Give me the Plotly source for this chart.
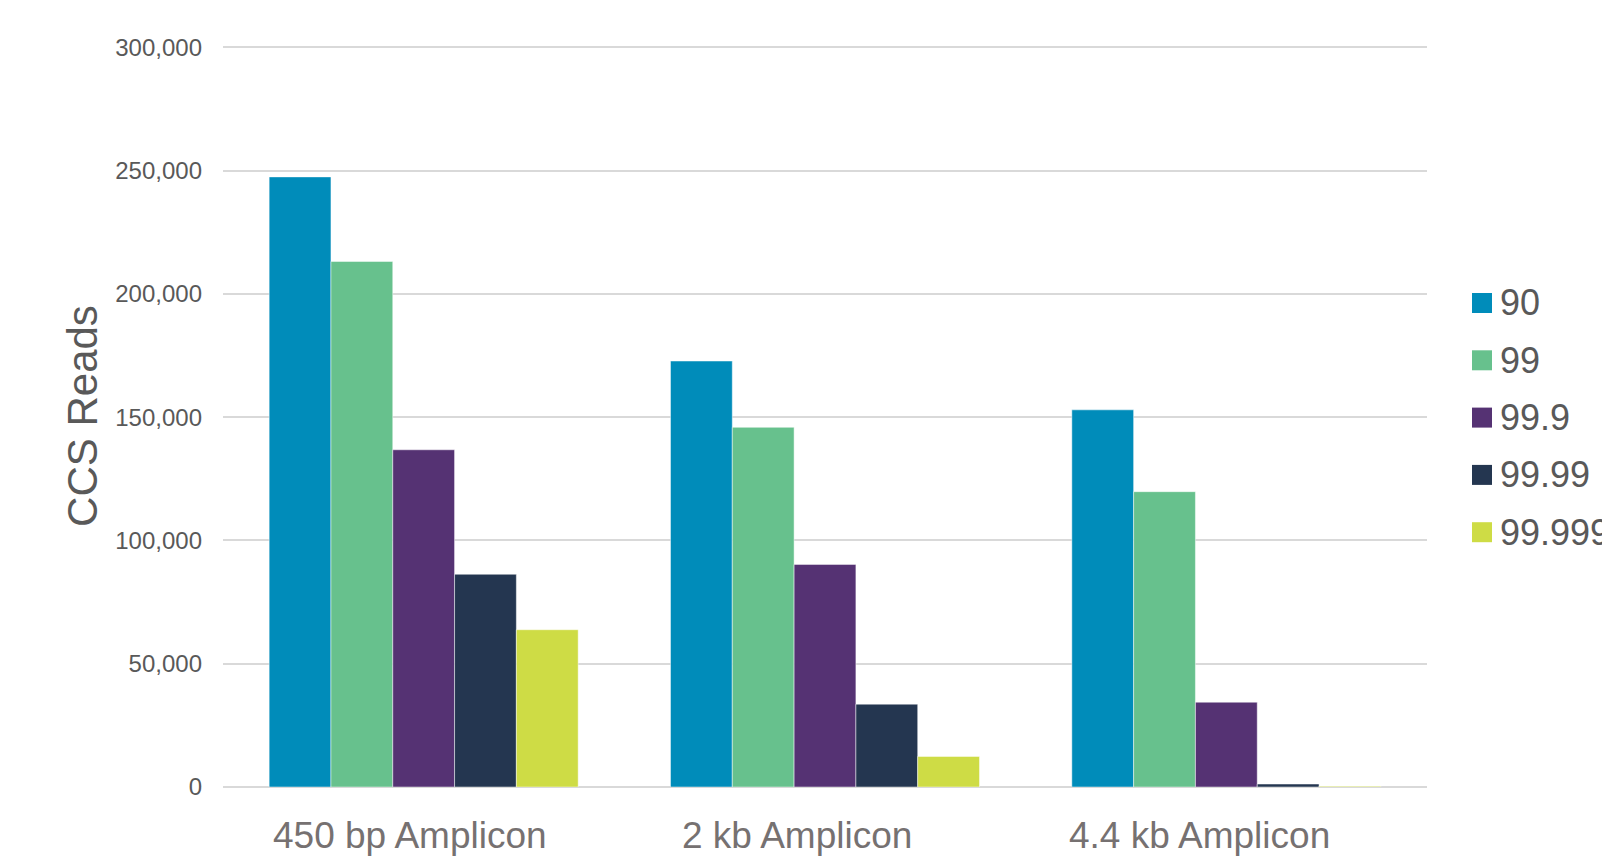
import plotly.graph_objects as go

categories = ["450 bp Amplicon", "2 kb Amplicon", "4.4 kb Amplicon"]
series_names = ["90", "99", "99.9", "99.99", "99.999"]
vals_90 = [247500, 172800, 153000]
vals_99 = [213200, 145900, 119800]
vals_999 = [136800, 90300, 34400]
vals_9999 = [86300, 33600, 1200]
vals_99999 = [63800, 12400, 300]
y_ticks = [0, 50000, 100000, 150000, 200000, 250000, 300000]

series_values = [vals_90, vals_99, vals_999, vals_9999, vals_99999]
colors = ["#008CBA", "#67C18D", "#553273", "#243650", "#CEDC45"]

W, H = 1602, 861
ML, MR, MT, MB = 223, 175, 45, 74
PW = W - ML - MR
PH = H - MT - MB

fig = go.Figure()
for name, vals, col in zip(series_names, series_values, colors):
    fig.add_trace(go.Bar(
        x=categories, y=vals, name=name, showlegend=False,
        marker=dict(color=col, line=dict(color="rgba(255,255,255,0.6)", width=0.8)),
    ))

FONT = "Liberation Sans, Arial, sans-serif"

# manual legend (to match large square swatches)
leg_x_px = 1472
leg_y0_px = 303
leg_step = 57.3
sq = 20
shapes = []
annotations = []
for i, (name, col) in enumerate(zip(series_names, colors)):
    cy = leg_y0_px + i * leg_step
    x0 = (leg_x_px - ML) / PW
    x1 = (leg_x_px + sq - ML) / PW
    y0 = (MT + PH - (cy + sq / 2)) / PH
    y1 = (MT + PH - (cy - sq / 2)) / PH
    shapes.append(dict(type="rect", xref="paper", yref="paper", x0=x0, x1=x1,
                       y0=y0, y1=y1, fillcolor=col, line=dict(width=0), layer="above"))
    annotations.append(dict(xref="paper", yref="paper", x=(leg_x_px + sq + 6 - ML) / PW,
                            y=(MT + PH - cy) / PH, xanchor="left", yanchor="middle",
                            text=name, showarrow=False,
                            font=dict(family=FONT, size=36, color="#595959")))

# category labels (slightly left of the bar-group centres, as in the original)
label_shifts = [-14, -28, -27]
for cat, dx in zip(categories, label_shifts):
    annotations.append(dict(xref="x", yref="paper", x=cat, y=0, xanchor="center",
                            yanchor="top", xshift=dx, yshift=-26, text=cat,
                            showarrow=False,
                            font=dict(family=FONT, size=37, color="#767171")))

fig.update_layout(
    width=W, height=H,
    margin=dict(l=ML, r=MR, t=MT, b=MB, pad=0),
    paper_bgcolor="white", plot_bgcolor="white",
    barmode="group", bargap=0.23, bargroupgap=0,
    font=dict(family=FONT, color="#595959"),
    shapes=shapes, annotations=annotations,
    showlegend=False,
)
fig.update_xaxes(
    type="category", showgrid=False, showline=False, zeroline=False,
    ticks="", showticklabels=False,
)
fig.update_yaxes(
    range=[0, 301000], tickvals=y_ticks, tickformat=",",
    showgrid=True, gridcolor="#D9D9D9", gridwidth=1.5,
    zeroline=True, zerolinecolor="#D9D9D9", zerolinewidth=1.5,
    showline=False, ticks="", ticklabelstandoff=20,
    tickfont=dict(family=FONT, size=24, color="#595959"),
    title=dict(text="CCS Reads", standoff=4,
               font=dict(family=FONT, size=42, color="#595959")),
)

fig.write_html("out.html")
